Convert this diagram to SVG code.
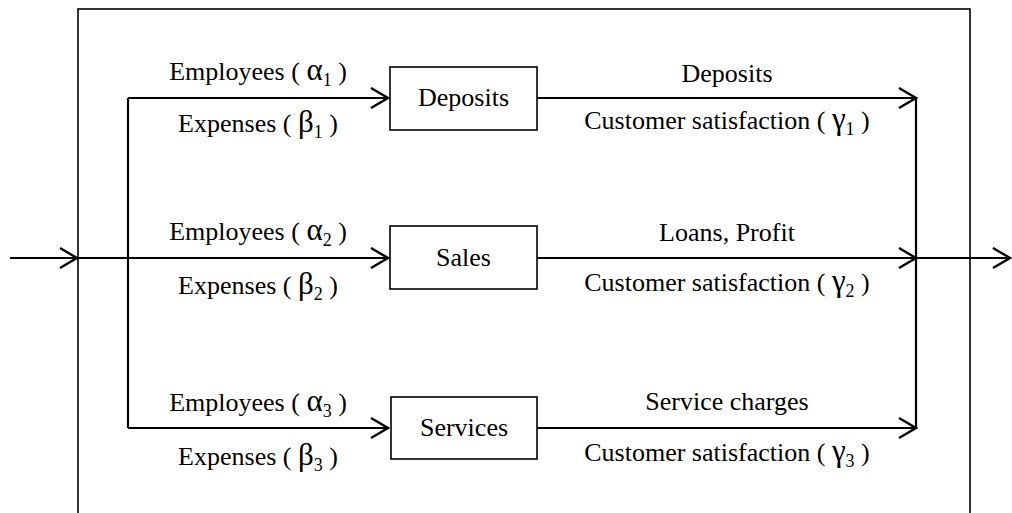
<svg xmlns="http://www.w3.org/2000/svg" width="1012" height="513" viewBox="0 0 1012 513" font-family="'Liberation Serif', 'Times New Roman', 'DejaVu Serif', serif">
<style>
.frame{fill:none;stroke:#000;stroke-width:1.6}
.box{fill:#fff;stroke:#000;stroke-width:1.6}
.ln{fill:none;stroke:#000;stroke-width:2.2}
text{font-family:'Liberation Serif','Times New Roman','DejaVu Serif',serif}
.t{font-size:26px;fill:#000;text-anchor:middle}
.g{font-size:31px}
.s{font-size:18px}
</style>
<defs>
<marker id="arr" viewBox="-20 -12 22 24" refX="0" refY="0" markerWidth="22" markerHeight="24" markerUnits="userSpaceOnUse" orient="auto">
<path d="M-17,-10 L0,0 L-17,10" fill="none" stroke="#000" stroke-width="2.4"/>
</marker>
</defs>
<rect class="frame" x="78" y="9" width="892" height="515"/>
<g id="connectors">
<path class="ln" d="M10,258 H77" marker-end="url(#arr)"/>
<path class="ln" d="M128,98 V428"/>
<path class="ln" d="M128,98 H388" marker-end="url(#arr)"/>
<path class="ln" d="M78,258 H388" marker-end="url(#arr)"/>
<path class="ln" d="M128,428 H388" marker-end="url(#arr)"/>
<path class="ln" d="M537,98 H916" marker-end="url(#arr)"/>
<path class="ln" d="M537,258 H916" marker-end="url(#arr)"/>
<path class="ln" d="M537,428 H916" marker-end="url(#arr)"/>
<path class="ln" d="M916,98 V428"/>
<path class="ln" d="M916,258 H1010" marker-end="url(#arr)"/>
</g>
<g id="labels" font-family="'Liberation Serif', 'Times New Roman', serif">
<text class="t" x="258" y="80">Employees ( <tspan class="g">α</tspan><tspan class="s" dy="6">1</tspan><tspan dy="-6"> )</tspan></text>
<text class="t" x="258" y="132">Expenses ( <tspan class="g">β</tspan><tspan class="s" dy="6">1</tspan><tspan dy="-6"> )</tspan></text>
<text class="t" x="727" y="82">Deposits</text>
<text class="t" x="727" y="129">Customer satisfaction ( <tspan class="g">γ</tspan><tspan class="s" dy="6">1</tspan><tspan dy="-6"> )</tspan></text>
<text class="t" x="258" y="240">Employees ( <tspan class="g">α</tspan><tspan class="s" dy="6">2</tspan><tspan dy="-6"> )</tspan></text>
<text class="t" x="258" y="294">Expenses ( <tspan class="g">β</tspan><tspan class="s" dy="6">2</tspan><tspan dy="-6"> )</tspan></text>
<text class="t" x="727" y="241">Loans, Profit</text>
<text class="t" x="727" y="291">Customer satisfaction ( <tspan class="g">γ</tspan><tspan class="s" dy="6">2</tspan><tspan dy="-6"> )</tspan></text>
<text class="t" x="258" y="411">Employees ( <tspan class="g">α</tspan><tspan class="s" dy="6">3</tspan><tspan dy="-6"> )</tspan></text>
<text class="t" x="258" y="465">Expenses ( <tspan class="g">β</tspan><tspan class="s" dy="6">3</tspan><tspan dy="-6"> )</tspan></text>
<text class="t" x="727" y="410">Service charges</text>
<text class="t" x="727" y="461">Customer satisfaction ( <tspan class="g">γ</tspan><tspan class="s" dy="6">3</tspan><tspan dy="-6"> )</tspan></text>
</g>
<g id="node-deposits">
<rect class="box" x="390" y="67" width="147" height="63"/>
<text class="t" x="463.5" y="106">Deposits</text>
</g>
<g id="node-sales">
<rect class="box" x="390" y="226" width="147" height="63"/>
<text class="t" x="463.5" y="266">Sales</text>
</g>
<g id="node-services">
<rect class="box" x="391" y="397" width="146" height="62"/>
<text class="t" x="464" y="436">Services</text>
</g>
</svg>
